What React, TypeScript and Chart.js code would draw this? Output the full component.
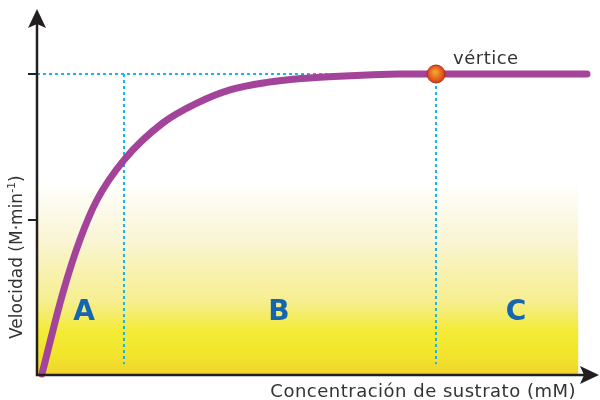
import React, { useEffect, useRef } from "react";
import { Chart, registerables } from "chart.js";

Chart.register(...registerables);

// Curve: velocity vs substrate concentration
const concentration = [0.9, 4.7, 7.8, 10.9, 15.8, 22.9, 29.1, 35.1, 41.8, 48, 54, 60, 66, 72.55, 100];
const velocity = [0.0, 0.27, 0.447, 0.58, 0.713, 0.837, 0.903, 0.947, 0.972, 0.985, 0.992, 0.997, 1.0, 1.0, 1.0];

const vmax = 1.0;
const halfTick = 0.513;
const boundaryA = 15.82; // end of region A
const vertexX = 72.55; // vértice
const regionLabels = ["A", "B", "C"];
const xTitle = "Concentración de sustrato (mM)";
const yTitleMain = "Velocidad (M·min";
const yTitleSup = "-1";
const yTitleEnd = ")";
const vertexLabel = "vértice";
const bandEnd = 98.4;
const bandTop = 0.647;

const FONT = '"DejaVu Sans", sans-serif';

function makeVertexImage(): HTMLCanvasElement {
  const c = document.createElement("canvas");
  c.width = 20;
  c.height = 20;
  const g = c.getContext("2d")!;
  const grad = g.createRadialGradient(9, 8, 1, 10, 10, 10);
  grad.addColorStop(0, "#f6a02c");
  grad.addColorStop(0.6, "#e4601f");
  grad.addColorStop(1, "#c8301c");
  g.beginPath();
  g.arc(10, 10, 9, 0, Math.PI * 2);
  g.fillStyle = grad;
  g.fill();
  g.lineWidth = 1;
  g.strokeStyle = "#b02a1a";
  g.stroke();
  return c;
}

const decorPlugin = {
  id: "decor",
  beforeDatasetsDraw(chart: any) {
    const { ctx } = chart;
    const xs = chart.scales.x;
    const ys = chart.scales.y;
    const x0 = xs.getPixelForValue(0);
    const x1 = xs.getPixelForValue(bandEnd);
    const y0 = ys.getPixelForValue(0);
    const y1 = ys.getPixelForValue(bandTop);
    const grad = ctx.createLinearGradient(0, y1, 0, y0);
    grad.addColorStop(0, "rgba(255,255,255,1)");
    grad.addColorStop(0.3, "#faf5d6");
    grad.addColorStop(0.63, "#f6ee8e");
    grad.addColorStop(0.78, "#f3eb35");
    grad.addColorStop(0.9, "#f2e52c");
    grad.addColorStop(1, "#f1d42c");
    ctx.save();
    ctx.fillStyle = grad;
    ctx.fillRect(x0, y1, x1 - x0, y0 - y1);
    ctx.restore();
  },
  afterDraw(chart: any) {
    const { ctx } = chart;
    const xs = chart.scales.x;
    const ys = chart.scales.y;
    const ax = xs.getPixelForValue(0);
    const ay = ys.getPixelForValue(0) + 1;
    ctx.save();
    // axes
    ctx.strokeStyle = "#231f20";
    ctx.fillStyle = "#231f20";
    ctx.lineWidth = 2.5;
    ctx.beginPath();
    ctx.moveTo(ax, ay);
    ctx.lineTo(ax, 22);
    ctx.moveTo(ax - 1.25, ay);
    ctx.lineTo(590, ay);
    ctx.stroke();
    // arrow heads
    ctx.beginPath();
    ctx.moveTo(ax, 9);
    ctx.lineTo(ax + 9, 28);
    ctx.lineTo(ax, 24);
    ctx.lineTo(ax - 9, 28);
    ctx.closePath();
    ctx.fill();
    ctx.beginPath();
    ctx.moveTo(599, ay);
    ctx.lineTo(580, ay - 9);
    ctx.lineTo(584, ay);
    ctx.lineTo(580, ay + 9);
    ctx.closePath();
    ctx.fill();
    // ticks
    ctx.lineWidth = 2;
    [vmax, halfTick].forEach((v) => {
      const py = Math.round(ys.getPixelForValue(v));
      ctx.beginPath();
      ctx.moveTo(ax - 9, py);
      ctx.lineTo(ax, py);
      ctx.stroke();
    });
    // region letters
    ctx.fillStyle = "#1565b2";
    ctx.font = `bold 28px ${FONT}`;
    ctx.textAlign = "center";
    ctx.textBaseline = "middle";
    const letterX = [84, 279, 516];
    regionLabels.forEach((l, i) => ctx.fillText(l, letterX[i], 313));
    // titles
    ctx.fillStyle = "#333333";
    ctx.font = `18px ${FONT}`;
    (ctx as any).letterSpacing = "0.5px";
    ctx.textAlign = "right";
    ctx.textBaseline = "alphabetic";
    ctx.fillText(xTitle, 576, 397);
    ctx.textAlign = "left";
    ctx.fillText(vertexLabel, 453, 64);
    (ctx as any).letterSpacing = "0px";
    // y title rotated
    ctx.translate(22, 339);
    ctx.rotate(-Math.PI / 2);
    ctx.font = `17px ${FONT}`;
    ctx.fillText(yTitleMain, 0, 0);
    const w1 = ctx.measureText(yTitleMain).width;
    ctx.font = `11px ${FONT}`;
    ctx.fillText(yTitleSup, w1, -7);
    const w2 = ctx.measureText(yTitleSup).width;
    ctx.font = `17px ${FONT}`;
    ctx.fillText(yTitleEnd, w1 + w2, 0);
    ctx.restore();
  },
};

export default function App() {
  const ref = useRef<HTMLCanvasElement | null>(null);
  useEffect(() => {
    if (!ref.current) return;
    const dotted = {
      borderColor: "#1ab4f0",
      borderWidth: 2,
      borderDash: [3, 3],
      pointRadius: 0,
      showLine: true,
      clip: false as any,
      order: 3,
    };
    const chart = new Chart(ref.current, {
      type: "scatter",
      data: {
        datasets: [
          {
            ...dotted,
            data: [
              { x: 0, y: vmax },
              { x: vertexX, y: vmax },
            ],
          },
          {
            ...dotted,
            data: [
              { x: boundaryA, y: vmax },
              { x: boundaryA, y: 0.033 },
            ],
          },
          {
            ...dotted,
            data: [
              { x: vertexX, y: vmax },
              { x: vertexX, y: 0.033 },
            ],
          },
          {
            data: concentration.map((x, i) => ({ x, y: velocity[i] })),
            showLine: true,
            borderColor: "#a3449a",
            borderWidth: 7,
            borderCapStyle: "round",
            cubicInterpolationMode: "monotone",
            pointRadius: 0,
            clip: false as any,
            order: 2,
          },
          {
            data: [{ x: vertexX, y: vmax }],
            pointStyle: makeVertexImage() as any,
            pointRadius: 10,
            clip: false as any,
            order: 1,
          },
        ],
      },
      options: {
        animation: false,
        responsive: false,
        devicePixelRatio: 1,
        layout: { padding: { left: 37, right: 13, top: 14, bottom: 26 } },
        scales: {
          x: { type: "linear", min: 0, max: 100, display: false },
          y: { type: "linear", min: 0, max: 1.2, display: false },
        },
        plugins: { legend: { display: false }, tooltip: { enabled: false } },
      },
      plugins: [decorPlugin],
    });
    return () => chart.destroy();
  }, []);
  return (
    <div style={{ position: "fixed", left: 0, top: 0, width: 600, height: 400, background: "#fff" }}>
      <canvas ref={ref} width={600} height={400} />
    </div>
  );
}
